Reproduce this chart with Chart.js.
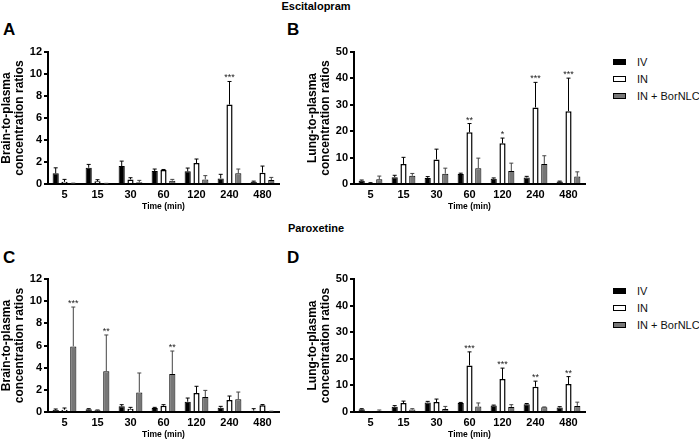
<!DOCTYPE html>
<html>
<head>
<meta charset="utf-8">
<script src="https://cdn.jsdelivr.net/npm/chart.js@4.4.1/dist/chart.umd.min.js"></script>
<style>
  body { margin: 0; background: #fff; font-family: 'Liberation Sans', Arial, sans-serif; }
  #page { position: relative; width: 699px; height: 442px; overflow: hidden; background: #fff; }
  .cv { position: absolute; }
  .txt { position: absolute; font-weight: bold; color: #000; line-height: 1; white-space: nowrap; }
  .letter { font-size: 17px; }
  .drug { font-size: 11px; transform: translateX(-50%); }
  .legend { position: absolute; font-size: 11px; color: #111; white-space: nowrap; }
  .legend div { position: relative; height: 17px; line-height: 17px; padding-left: 24px; }
  .legend span { position: absolute; left: 0; top: 5px; width: 11px; height: 4px; border: 1px solid #000; }
</style>
</head>
<body>
<div id="page">
  <div class="txt drug" style="left:316px; top:1px;">Escitalopram</div>
  <div class="txt drug" style="left:316px; top:223px;">Paroxetine</div>
  <div class="txt letter" style="left:3px; top:21px;">A</div>
  <div class="txt letter" style="left:287px; top:21px;">B</div>
  <div class="txt letter" style="left:3px; top:249px;">C</div>
  <div class="txt letter" style="left:287px; top:249px;">D</div>

  <canvas id="chartA" class="cv" style="left:0px; top:40px;" width="290" height="176"></canvas>
  <canvas id="chartB" class="cv" style="left:306px; top:40px;" width="290" height="176"></canvas>
  <canvas id="chartC" class="cv" style="left:0px; top:267px;" width="290" height="177"></canvas>
  <canvas id="chartD" class="cv" style="left:306px; top:267px;" width="290" height="177"></canvas>

  <div class="legend" style="left:613px; top:54px;">
    <div><span style="background:#000;"></span>IV</div>
    <div><span style="background:#fff;"></span>IN</div>
    <div><span style="background:#777;"></span>IN + BorNLC</div>
  </div>
  <div class="legend" style="left:613px; top:283px;">
    <div><span style="background:#000;"></span>IV</div>
    <div><span style="background:#fff;"></span>IN</div>
    <div><span style="background:#777;"></span>IN + BorNLC</div>
  </div>
</div>

<script>
// time points (min)
const times = ['5', '15', '30', '60', '120', '240', '480'];

// A - escitalopram, brain-to-plasma
const aIV = [0.97, 1.48, 1.63, 1.18, 1.15, 0.51, 0.21];
const aIVsd = [0.5, 0.3, 0.45, 0.18, 0.3, 0.37, 0.05];
const aIN = [0.2, 0.24, 0.42, 1.27, 1.9, 7.22, 1.03];
const aINsd = [0.22, 0.15, 0.15, 0.05, 0.37, 2.1, 0.6];
const aBor = [0.05, 0.04, 0.15, 0.3, 0.42, 0.97, 0.36];
const aBorsd = [0.03, 0.02, 0.18, 0.12, 0.34, 0.39, 0.24];
const aStars = ['', '', '', '', '', '***', ''];

// B - escitalopram, lung-to-plasma
const bIV = [1.26, 2.6, 2.3, 3.8, 2.0, 2.5, 0.9];
const bIVsd = [0.24, 0.7, 0.5, 0.3, 0.3, 0.4, 0.2];
const bIN = [0.3, 7.6, 9.3, 19.6, 15.4, 29.0, 27.6];
const bINsd = [0.2, 2.5, 3.9, 3.3, 2.0, 9.5, 12.5];
const bBor = [1.76, 3.1, 3.9, 6.0, 4.9, 7.6, 2.8];
const bBorsd = [1.24, 0.9, 2.1, 3.8, 3.0, 3.1, 1.8];
const bStars = ['', '', '', '**', '*', '***', '***'];

// C - paroxetine, brain-to-plasma
const cIV = [0.18, 0.24, 0.51, 0.36, 0.93, 0.39, 0.12];
const cIVsd = [0.09, 0.06, 0.15, 0.06, 0.33, 0.12, 0.18];
const cIN = [0.21, 0.15, 0.3, 0.57, 1.71, 1.08, 0.6];
const cINsd = [0.15, 0.03, 0.12, 0.09, 0.61, 0.36, 0.07];
const cBor = [5.92, 3.67, 1.77, 3.43, 1.35, 1.14, 0.05];
const cBorsd = [3.55, 3.28, 1.75, 2.07, 0.6, 0.66, 0.02];
const cStars = ['***', '**', '', '**', '', '', ''];

// D - paroxetine, lung-to-plasma
const dIV = [1.0, 2.0, 3.6, 3.4, 2.4, 2.9, 1.7];
const dIVsd = [0.25, 0.4, 0.4, 0.2, 0.2, 0.3, 0.3];
const dIN = [0.1, 3.4, 3.76, 17.5, 12.4, 9.5, 10.5];
const dINsd = [0.05, 0.7, 1.1, 5.1, 4.1, 2.1, 2.8];
const dBor = [0.5, 0.9, 1.1, 2.1, 1.9, 1.8, 2.3];
const dBorsd = [0.25, 0.35, 1.0, 1.3, 0.85, 0.1, 1.4];
const dStars = ['', '', '', '***', '***', '**', '**'];

Chart.defaults.font.family = "'Liberation Sans', Arial, sans-serif";
Chart.defaults.color = '#000';

// upper error bars (mean + SD)
const errorBars = {
  id: 'errorBars',
  afterDatasetsDraw(chart) {
    const ctx = chart.ctx;
    const y = chart.scales.y;
    chart.data.datasets.forEach((ds, i) => {
      const meta = chart.getDatasetMeta(i);
      meta.data.forEach((bar, j) => {
        const top = y.getPixelForValue(ds.data[j] + ds.errors[j]);
        ctx.save();
        ctx.strokeStyle = ds.errorColor;
        ctx.lineWidth = 1;
        ctx.beginPath();
        ctx.moveTo(bar.x, bar.y);
        ctx.lineTo(bar.x, top);
        ctx.moveTo(bar.x - 2, top);
        ctx.lineTo(bar.x + 2, top);
        ctx.stroke();
        ctx.restore();
      });
    });
  }
};

// significance asterisks above one series
const starMarks = {
  id: 'starMarks',
  afterDatasetsDraw(chart, args, opts) {
    const ctx = chart.ctx;
    const y = chart.scales.y;
    const ds = chart.data.datasets[opts.dataset];
    const meta = chart.getDatasetMeta(opts.dataset);
    ctx.save();
    ctx.font = "9px 'Liberation Sans', Arial, sans-serif";
    ctx.fillStyle = '#222';
    ctx.textAlign = 'center';
    ctx.textBaseline = 'alphabetic';
    opts.marks.forEach((m, j) => {
      if (!m) return;
      const top = y.getPixelForValue(ds.data[j] + ds.errors[j]);
      ctx.fillText(m, meta.data[j].x, top - 1);
    });
    ctx.restore();
  }
};

function makePanel(id, iv, ivSd, inn, inSd, bor, borSd, yMax, yStep, yTitle, marks, markSet) {
  const tickFont = { size: 11, weight: 'bold' };
  return new Chart(document.getElementById(id), {
    type: 'bar',
    data: {
      labels: times,
      datasets: [
        { label: 'IV', data: iv, errors: ivSd, errorColor: '#000',
          backgroundColor: '#000', borderColor: '#000', borderWidth: 1 },
        { label: 'IN', data: inn, errors: inSd, errorColor: '#000',
          backgroundColor: '#fff', borderColor: '#000', borderWidth: 1.5 },
        { label: 'IN + BorNLC', data: bor, errors: borSd, errorColor: '#444',
          backgroundColor: '#777', borderColor: '#000', borderWidth: 1 }
      ]
    },
    options: {
      responsive: false,
      animation: false,
      layout: { padding: { top: 12, right: 11, left: 0, bottom: 0 } },
      categoryPercentage: 0.8,
      barPercentage: 0.7,
      plugins: {
        legend: { display: false },
        tooltip: { enabled: false },
        starMarks: { dataset: markSet, marks: marks }
      },
      scales: {
        x: {
          grid: { display: false, drawTicks: false, tickLength: 0 },
          border: { display: true, color: '#000', width: 2 },
          ticks: { font: tickFont, padding: 4, maxRotation: 0 },
          title: { display: true, text: 'Time (min)', font: { size: 8.5, weight: 'bold' },
                   padding: { top: 0, bottom: 4 } },
          afterFit: (s) => { s.height = 32; }
        },
        y: {
          min: 0, max: yMax,
          grid: { display: true, drawOnChartArea: false, drawTicks: true, tickLength: 4,
                  color: '#000', lineWidth: 2 },
          border: { display: true, color: '#000', width: 2 },
          ticks: { stepSize: yStep, font: tickFont, padding: 2 },
          title: { display: true, text: yTitle, font: { size: 12, weight: 'bold', lineHeight: 1.1 },
                   padding: { top: 0, bottom: 0 } },
          afterFit: (s) => { s.width = 48; }
        }
      }
    },
    plugins: [errorBars, starMarks]
  });
}

const brainTitle = ['Brain-to-plasma', 'concentration ratios'];
const lungTitle = ['Lung-to-plasma', 'concentration ratios'];

makePanel('chartA', aIV, aIVsd, aIN, aINsd, aBor, aBorsd, 12, 2, brainTitle, aStars, 1);
makePanel('chartB', bIV, bIVsd, bIN, bINsd, bBor, bBorsd, 50, 10, lungTitle, bStars, 1);
makePanel('chartC', cIV, cIVsd, cIN, cINsd, cBor, cBorsd, 12, 2, brainTitle, cStars, 2);
makePanel('chartD', dIV, dIVsd, dIN, dINsd, dBor, dBorsd, 50, 10, lungTitle, dStars, 1);
</script>
</body>
</html>
